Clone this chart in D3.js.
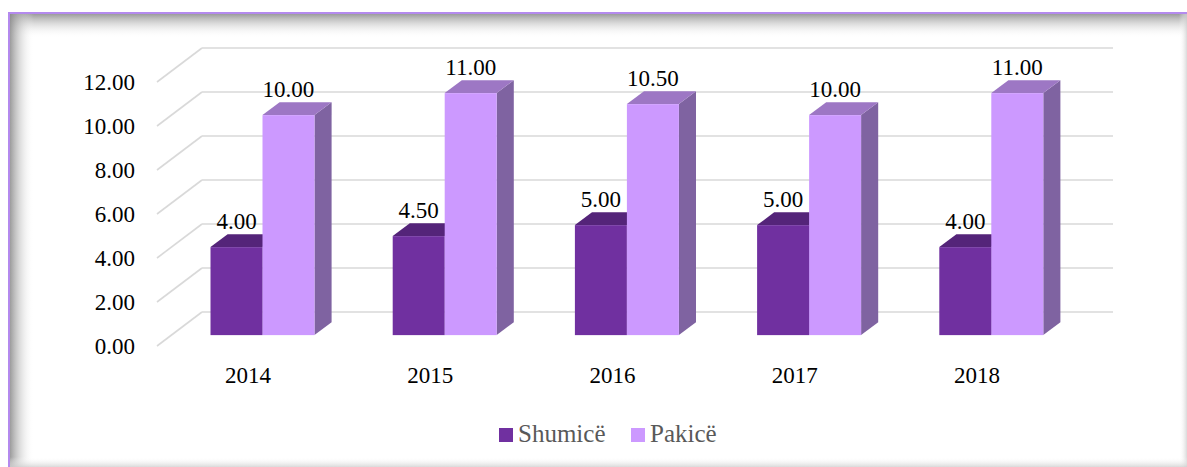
<!DOCTYPE html>
<html>
<head>
<meta charset="utf-8">
<script src="https://cdn.jsdelivr.net/npm/d3@7"></script>
<style>
  body { margin: 0; background: #fff; }
</style>
</head>
<body>
<script>
const width = 1187;
const height = 467;
const font = "'Liberation Serif', 'Times New Roman', serif";

const categories = ["2014", "2015", "2016", "2017", "2018"];
const seriesNames = ["Shumicë", "Pakicë"];
const shumice = [4.00, 4.50, 5.00, 5.00, 4.00];
const pakice = [10.00, 11.00, 10.50, 10.00, 11.00];
const yTicks = [0, 2, 4, 6, 8, 10, 12];

const colors = {
  "Shumicë": { front: "#7030a0", top: "#542479", side: "#4f2273" },
  "Pakicë": { front: "#cc99ff", top: "#9d77c4", side: "#7f63a1" }
};

const svg = d3.select("body")
  .append("svg")
  .attr("width", width)
  .attr("height", height)
  .attr("font-family", font);

// frame with inner shadow
const defs = svg.append("defs");
const grad = (id, x2, y2, c0, o0, c1, o1) => {
  const gr = defs.append("linearGradient").attr("id", id)
    .attr("x1", 0).attr("y1", 0).attr("x2", x2).attr("y2", y2);
  gr.append("stop").attr("offset", 0).attr("stop-color", c0).attr("stop-opacity", o0);
  gr.append("stop").attr("offset", 1).attr("stop-color", c1).attr("stop-opacity", o1);
};
grad("shTop", 0, 1, "#8a8a8a", 0.85, "#ffffff", 0);
grad("shLeft", 1, 0, "#8a8a8a", 0.85, "#ffffff", 0);
grad("shRight", 1, 0, "#ffffff", 0, "#d0d0d0", 0.8);
grad("shBot", 0, 1, "#ffffff", 0, "#d0d0d0", 0.8);

svg.append("rect").attr("x", 10).attr("y", 14).attr("width", width - 10).attr("height", 24).attr("fill", "url(#shTop)");
svg.append("rect").attr("x", 10).attr("y", 14).attr("width", 24).attr("height", height - 14).attr("fill", "url(#shLeft)");
svg.append("rect").attr("x", width - 8).attr("y", 14).attr("width", 8).attr("height", height - 14).attr("fill", "url(#shRight)");
svg.append("rect").attr("x", 10).attr("y", height - 10).attr("width", width - 10).attr("height", 10).attr("fill", "url(#shBot)");
svg.append("rect").attr("x", 8).attr("y", 12).attr("width", width - 8).attr("height", 2).attr("fill", "#b48aee");
svg.append("rect").attr("x", 8).attr("y", 12).attr("width", 2).attr("height", height - 12).attr("fill", "#b48aee");

// 3d projection: front plane origin, depth vector
const originX = 157;
const depth = { dx: 45, dy: -34 };

const x = d3.scaleBand()
  .domain(categories)
  .range([0, 911]);

const xs = d3.scaleBand()
  .domain(seriesNames)
  .range([0, x.bandwidth()])
  .paddingOuter(0.752);

const y = d3.scaleLinear()
  .domain([0, 12])
  .range([346, 82]);

const px = (xv, d) => originX + xv + depth.dx * d;
const py = (v, d) => y(v) + depth.dy * d;

const g = svg.append("g");

// gridlines: side wall and back wall
yTicks.forEach(v => {
  g.append("line")
    .attr("x1", px(0, 0)).attr("y1", py(v, 0))
    .attr("x2", px(0, 1)).attr("y2", py(v, 1))
    .attr("stroke", "#d9d9d9").attr("stroke-width", 1.6);
  g.append("line")
    .attr("x1", px(0, 1)).attr("y1", py(v, 1))
    .attr("x2", px(x.range()[1], 1)).attr("y2", py(v, 1))
    .attr("stroke", "#d9d9d9").attr("stroke-width", 1.6);
});

// y axis labels
g.selectAll(".ytick")
  .data(yTicks)
  .enter()
  .append("text")
    .attr("class", "ytick")
    .attr("x", 135)
    .attr("y", d => y(d))
    .attr("dy", "0.35em")
    .attr("text-anchor", "end")
    .attr("font-size", 23)
    .attr("fill", "#000")
    .text(d => d3.format(".2f")(d));

// category labels
g.selectAll(".xtick")
  .data(categories)
  .enter()
  .append("text")
    .attr("class", "xtick")
    .attr("x", d => originX + x(d) + x.bandwidth() / 2)
    .attr("y", 383)
    .attr("text-anchor", "middle")
    .attr("font-size", 23)
    .attr("fill", "#000")
    .text(d => d);

// bars
const d0 = 0.32, d1 = 0.70;
const bars = [];
categories.forEach((c, i) => {
  bars.push({ cat: c, s: "Shumicë", v: shumice[i] });
  bars.push({ cat: c, s: "Pakicë", v: pakice[i] });
});

const poly = pts => pts.map(p => p.join(",")).join(" ");

bars.forEach(b => {
  const x0 = x(b.cat) + xs(b.s);
  const x1 = x0 + xs.bandwidth();
  const col = colors[b.s];
  // side
  g.append("polygon")
    .attr("points", poly([
      [px(x1, d0), py(0, d0)], [px(x1, d1), py(0, d1)],
      [px(x1, d1), py(b.v, d1)], [px(x1, d0), py(b.v, d0)]
    ]))
    .attr("fill", col.side);
  // top
  g.append("polygon")
    .attr("points", poly([
      [px(x0, d0), py(b.v, d0)], [px(x1, d0), py(b.v, d0)],
      [px(x1, d1), py(b.v, d1)], [px(x0, d1), py(b.v, d1)]
    ]))
    .attr("fill", col.top);
  // front
  g.append("rect")
    .attr("x", px(x0, d0))
    .attr("y", py(b.v, d0))
    .attr("width", xs.bandwidth())
    .attr("height", py(0, d0) - py(b.v, d0))
    .attr("fill", col.front);
});

// value labels
g.selectAll(".vlabel")
  .data(bars)
  .enter()
  .append("text")
    .attr("class", "vlabel")
    .attr("x", d => px(x(d.cat) + xs(d.s) + xs.bandwidth() / 2, d0))
    .attr("y", d => py(d.v, d1) - 5)
    .attr("text-anchor", "middle")
    .attr("font-size", 23)
    .attr("fill", "#000")
    .text(d => d3.format(".2f")(d.v));

// legend
const legendX = [499, 631];
const legend = svg.append("g");
seriesNames.forEach((s, i) => {
  legend.append("rect")
    .attr("x", legendX[i]).attr("y", 428)
    .attr("width", 14).attr("height", 14)
    .attr("fill", colors[s].front);
  legend.append("text")
    .attr("x", legendX[i] + 19).attr("y", 442)
    .attr("font-size", 25)
    .attr("fill", "#595959")
    .text(s);
});
</script>
</body>
</html>
